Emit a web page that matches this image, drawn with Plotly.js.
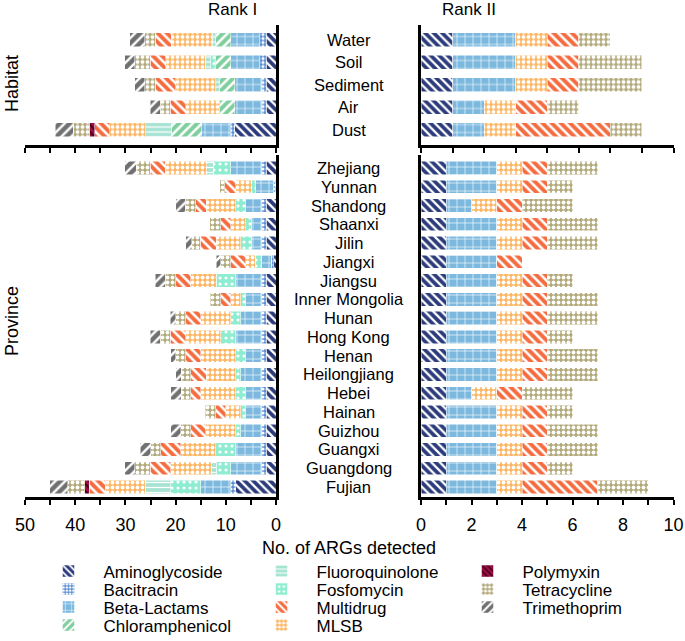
<!DOCTYPE html>
<html><head><meta charset="utf-8">
<script src="https://cdn.plot.ly/plotly-3.0.1.min.js"></script>
<style>html,body{margin:0;padding:0;background:#fff}#chart{width:685px;height:641px}</style>
</head><body><div id="chart"></div>
<script>
// ---------- categories (top to bottom) ----------
const habitats = ['Water', 'Soil', 'Sediment', 'Air', 'Dust'];
const provinces = ['Zhejiang', 'Yunnan', 'Shandong', 'Shaanxi', 'Jilin', 'Jiangxi', 'Jiangsu',
  'Inner Mongolia', 'Hunan', 'Hong Kong', 'Henan', 'Heilongjiang', 'Hebei', 'Hainan',
  'Guizhou', 'Guangxi', 'Guangdong', 'Fujian'];

// stacking order from the axis outward
const genes = ['Aminoglycoside', 'Bacitracin', 'Beta-Lactams', 'Chloramphenicol', 'Fosfomycin',
  'Fluoroquinolone', 'MLSB', 'Multidrug', 'Polymyxin', 'Tetracycline', 'Trimethoprim'];

// ---------- Rank I, habitat (Water, Soil, Sediment, Air, Dust) ----------
const r1HabAminoglycoside  = [1.9, 1.9, 1.9, 1.9, 8.2];
const r1HabBacitracin      = [1.3, 1.3, 1.0, 1.0, 0.8];
const r1HabBetaLactams     = [5.8, 5.8, 5.3, 5.3, 5.8];
const r1HabChloramphenicol = [3.0, 3.0, 3.0, 3.0, 6.1];
const r1HabFosfomycin      = [0, 1.0, 0, 0, 0];
const r1HabFluoroquinolone = [0.7, 1.1, 0.8, 0, 5.0];
const r1HabMLSB            = [8.2, 7.9, 8.0, 6.8, 7.2];
const r1HabMultidrug       = [3.2, 3.1, 4.1, 3.1, 3.0];
const r1HabPolymyxin       = [0, 0, 0, 0, 1.0];
const r1HabTetracycline    = [2.0, 3.0, 2.0, 2.0, 3.3];
const r1HabTrimethoprim    = [3.0, 2.0, 2.0, 2.0, 3.6];

// ---------- Rank II, habitat ----------
const r2HabAminoglycoside = [1, 1, 1, 1, 1];
const r2HabBetaLactams    = [2, 2, 2, 1, 1];
const r2HabMLSB           = [1, 1, 1, 1, 1];
const r2HabMultidrug      = [1, 1, 1, 1, 3];
const r2HabTetracycline   = [1, 2, 2, 1, 1];

// ---------- Rank I, province ----------
const r1ProAminoglycoside  = [1.9, 0.2, 1.9, 1.9, 1.9, 0.4, 1.9, 1.9, 1.9, 1.9, 1.9, 1.9, 1.9, 1.9, 1.9, 1.9, 1.9, 8.0];
const r1ProBacitracin      = [1.0, 0.3, 1.0, 1.0, 1.0, 0.5, 1.0, 1.0, 1.0, 1.0, 1.0, 1.0, 1.0, 1.0, 1.0, 1.0, 1.0, 1.0];
const r1ProBetaLactams     = [6.1, 3.5, 3.1, 2.0, 2.0, 2.0, 5.1, 3.1, 4.1, 5.1, 3.1, 4.1, 3.1, 3.1, 4.1, 5.1, 6.1, 6.0];
const r1ProChloramphenicol = [0, 0, 0, 0, 0, 0, 0, 0, 0, 0, 0, 0, 0, 0, 0, 0, 0, 0];
const r1ProFosfomycin      = [3.5, 0.8, 2.0, 1.15, 2.1, 1.2, 3.9, 1.0, 2.0, 3.0, 2.0, 1.0, 2.0, 1.0, 1.0, 4.0, 2.9, 6.0];
const r1ProFluoroquinolone = [1.3, 0, 0, 0, 0, 0, 0, 0, 0, 0, 0, 0, 0, 0, 0, 0, 0.9, 5.0];
const r1ProMLSB            = [8.3, 3.2, 5.9, 3.0, 4.9, 1.9, 5.1, 2.0, 6.0, 7.0, 7.0, 5.9, 7.0, 3.0, 6.0, 7.0, 8.2, 8.0];
const r1ProMultidrug       = [3.0, 2.2, 2.1, 2.0, 3.2, 3.0, 3.0, 2.0, 3.0, 3.1, 3.0, 3.1, 2.0, 2.0, 3.0, 4.0, 4.1, 3.2];
const r1ProPolymyxin       = [0, 0, 0, 0, 0, 0, 0, 0, 0, 0, 0, 0, 0, 0, 0, 0, 0, 0.9];
const r1ProTetracycline    = [2.7, 1.0, 2.1, 2.1, 1.7, 2.0, 2.1, 2.1, 2.0, 2.0, 2.0, 1.9, 1.9, 2.1, 2.0, 2.0, 3.0, 3.4];
const r1ProTrimethoprim    = [2.3, 0, 1.9, 0, 1.2, 0.9, 2.0, 0, 1.1, 2.0, 1.0, 1.1, 2.1, 0, 2.0, 2.0, 2.0, 3.6];

// ---------- Rank II, province ----------
const r2ProAminoglycoside = [1, 1, 1, 1, 1, 1, 1, 1, 1, 1, 1, 1, 1, 1, 1, 1, 1, 1];
const r2ProBetaLactams    = [2, 2, 1, 2, 2, 2, 2, 2, 2, 2, 2, 2, 1, 2, 2, 2, 2, 2];
const r2ProMLSB           = [1, 1, 1, 1, 1, 0, 1, 1, 1, 1, 1, 1, 1, 1, 1, 1, 1, 1];
const r2ProMultidrug      = [1, 1, 1, 1, 1, 1, 1, 1, 1, 1, 1, 1, 1, 1, 1, 1, 1, 3];
const r2ProTetracycline   = [2, 1, 2, 2, 2, 0, 1, 2, 2, 1, 2, 2, 2, 1, 2, 2, 1, 2];

const r1Hab = {
  'Aminoglycoside': r1HabAminoglycoside, 'Bacitracin': r1HabBacitracin, 'Beta-Lactams': r1HabBetaLactams,
  'Chloramphenicol': r1HabChloramphenicol, 'Fosfomycin': r1HabFosfomycin, 'Fluoroquinolone': r1HabFluoroquinolone,
  'MLSB': r1HabMLSB, 'Multidrug': r1HabMultidrug, 'Polymyxin': r1HabPolymyxin,
  'Tetracycline': r1HabTetracycline, 'Trimethoprim': r1HabTrimethoprim };
const r2Hab = { 'Aminoglycoside': r2HabAminoglycoside, 'Beta-Lactams': r2HabBetaLactams,
  'MLSB': r2HabMLSB, 'Multidrug': r2HabMultidrug, 'Tetracycline': r2HabTetracycline };
const r1Pro = {
  'Aminoglycoside': r1ProAminoglycoside, 'Bacitracin': r1ProBacitracin, 'Beta-Lactams': r1ProBetaLactams,
  'Chloramphenicol': r1ProChloramphenicol, 'Fosfomycin': r1ProFosfomycin, 'Fluoroquinolone': r1ProFluoroquinolone,
  'MLSB': r1ProMLSB, 'Multidrug': r1ProMultidrug, 'Polymyxin': r1ProPolymyxin,
  'Tetracycline': r1ProTetracycline, 'Trimethoprim': r1ProTrimethoprim };
const r2Pro = { 'Aminoglycoside': r2ProAminoglycoside, 'Beta-Lactams': r2ProBetaLactams,
  'MLSB': r2ProMLSB, 'Multidrug': r2ProMultidrug, 'Tetracycline': r2ProTetracycline };

// ---------- styles ----------
const W = 685, H = 641;
const FONT = 'Liberation Sans, Arial, Helvetica, sans-serif';
const styles = {
  'Aminoglycoside':  {color: '#2b3b7b', shape: '\\', fg: '#ffffff', size: 6,   sol: 0.38},
  'Bacitracin':      {color: '#5b8fd3', shape: '.',  fg: '#ffffff', size: 4,   sol: 0.45},
  'Beta-Lactams':    {color: '#7db8df', shape: '+',  fg: '#ffffff', size: 8,   sol: 0.15},
  'Chloramphenicol': {color: '#7fce9e', shape: '/',  fg: '#ffffff', size: 6.5, sol: 0.38},
  'Fluoroquinolone': {color: '#a6e3d2', shape: '-',  fg: '#ffffff', size: 5,   sol: 0.25},
  'Fosfomycin':      {color: '#8eedd0', shape: '.',  fg: '#ffffff', size: 6,   sol: 0.22},
  'Multidrug':       {color: '#f46c3f', shape: '\\', fg: '#ffffff', size: 6.5, sol: 0.4},
  'MLSB':            {color: '#fdb663', shape: '.',  fg: '#ffffff', size: 5,   sol: 0.45},
  'Polymyxin':       {color: '#9c0d44', shape: '\\', fg: '#3e0016', size: 5,   sol: 0.35},
  'Tetracycline':    {color: '#b3aa7b', shape: '.',  fg: '#ffffff', size: 5,   sol: 0.45},
  'Trimethoprim':    {color: '#707070', shape: '/',  fg: '#ffffff', size: 7,   sol: 0.35}
};
// legend layout: rows (legend ids) and columns
const legendRow = {
  'Aminoglycoside': 'legend', 'Fluoroquinolone': 'legend', 'Polymyxin': 'legend',
  'Bacitracin': 'legend2', 'Fosfomycin': 'legend2', 'Tetracycline': 'legend2',
  'Beta-Lactams': 'legend3', 'Multidrug': 'legend3', 'Trimethoprim': 'legend3',
  'Chloramphenicol': 'legend4', 'MLSB': 'legend4'
};
const legendCol = {
  'Aminoglycoside': 1, 'Bacitracin': 1, 'Beta-Lactams': 1, 'Chloramphenicol': 1,
  'Fluoroquinolone': 2, 'Fosfomycin': 2, 'Multidrug': 2, 'MLSB': 2,
  'Polymyxin': 3, 'Tetracycline': 3, 'Trimethoprim': 3
};

function barTrace(gene, values, cats, xa, ya, width, show) {
  const s = styles[gene];
  const t = {
    type: 'bar', orientation: 'h', name: gene,
    x: values.map(v => (v === 0 ? null : v)), y: cats,
    xaxis: xa, yaxis: ya, width: width,
    marker: {
      color: s.color, line: {color: '#ffffff', width: 0.5},
      pattern: {shape: s.shape, fgcolor: s.fg, bgcolor: s.color, size: s.size,
                solidity: s.sol, fillmode: 'replace'}
    },
    hoverinfo: 'skip', showlegend: show
  };
  if (show) {
    t.legend = legendRow[gene];
    t.legendrank = legendCol[gene];
    t.legendwidth = legendCol[gene] === 1 ? 138 : 131;
  }
  return t;
}

const data = [];
genes.forEach(g => data.push(barTrace(g, r1Hab[g], habitats, 'x', 'y', 0.62, false)));
genes.forEach(g => { if (r2Hab[g]) data.push(barTrace(g, r2Hab[g], habitats, 'x2', 'y2', 0.62, false)); });
genes.forEach(g => data.push(barTrace(g, r1Pro[g], provinces, 'x3', 'y3', 0.71, true)));
genes.forEach(g => { if (r2Pro[g]) data.push(barTrace(g, r2Pro[g], provinces, 'x4', 'y4', 0.71, false)); });

// ---------- geometry (pixels -> paper) ----------
const px = v => v / W;
const py = v => 1 - v / H;
const leftDom = [px(25), px(276)];
const rightDom = [px(421), px(673.5)];
const habDom = [py(145), py(24.5)];
const proDom = [py(497), py(155)];

const xBase = {
  showgrid: false, zeroline: false, showline: true, linecolor: '#000', linewidth: 2.5,
  ticks: 'outside', ticklen: 5, tickwidth: 2, tickcolor: '#000',
  tickfont: {family: FONT, size: 18, color: '#000'}, fixedrange: true, ticklabelstandoff: 5
};
const yBase = {
  showgrid: false, zeroline: false, showline: true, linecolor: '#000', linewidth: 2.5,
  ticks: '', showticklabels: false, type: 'category', fixedrange: true
};

const legendBase = (topPx) => ({
  orientation: 'h', x: px(33.5), xanchor: 'left', y: py(topPx), yanchor: 'top',
  itemwidth: 60, bgcolor: 'rgba(0,0,0,0)', borderwidth: 0, traceorder: 'normal',
  font: {family: FONT, size: 17, color: '#000'}, itemclick: false, itemdoubleclick: false
});

const CAT_FONT = {family: FONT, size: 16.5, color: '#000'};
const annotations = [];
habitats.forEach((h, i) => annotations.push({
  xref: 'paper', yref: 'y', x: px(348.5), y: i, text: h, showarrow: false,
  xanchor: 'center', yanchor: 'middle', font: CAT_FONT
}));
provinces.forEach((p, i) => annotations.push({
  xref: 'paper', yref: 'y3', x: px(348.5), y: i, text: p, showarrow: false,
  xanchor: 'center', yanchor: 'middle', font: CAT_FONT
}));
annotations.push(
  {xref: 'paper', yref: 'paper', x: px(232), y: py(9), text: 'Rank I', showarrow: false,
   xanchor: 'center', yanchor: 'middle', font: {family: FONT, size: 17, color: '#000'}},
  {xref: 'paper', yref: 'paper', x: px(469), y: py(9), text: 'Rank II', showarrow: false,
   xanchor: 'center', yanchor: 'middle', font: {family: FONT, size: 17, color: '#000'}},
  {xref: 'paper', yref: 'paper', x: px(12), y: py(84), text: 'Habitat', showarrow: false,
   textangle: -90, xanchor: 'center', yanchor: 'middle', font: {family: FONT, size: 18, color: '#000'}},
  {xref: 'paper', yref: 'paper', x: px(12), y: py(321), text: 'Province', showarrow: false,
   textangle: -90, xanchor: 'center', yanchor: 'middle', font: {family: FONT, size: 18, color: '#000'}},
  {xref: 'paper', yref: 'paper', x: px(348.5), y: py(548), text: 'No. of ARGs detected', showarrow: false,
   xanchor: 'center', yanchor: 'middle', font: {family: FONT, size: 18, color: '#000'}}
);

const layout = {
  width: W, height: H,
  margin: {l: 0, r: 0, t: 0, b: 0, autoexpand: false},
  paper_bgcolor: '#fff', plot_bgcolor: 'rgba(0,0,0,0)',
  barmode: 'stack', font: {family: FONT, color: '#000'},
  xaxis:  Object.assign({}, xBase, {domain: leftDom, anchor: 'y', range: [50, 0], dtick: 5, showticklabels: false}),
  xaxis2: Object.assign({}, xBase, {domain: rightDom, anchor: 'y2', range: [0, 8], dtick: 1, showticklabels: false}),
  xaxis3: Object.assign({}, xBase, {domain: leftDom, anchor: 'y3', range: [50, 0], tickvals: [0, 10, 20, 30, 40, 50],
           minor: {dtick: 5, ticks: 'outside', ticklen: 5, tickwidth: 2, tickcolor: '#000', showgrid: false}}),
  xaxis4: Object.assign({}, xBase, {domain: rightDom, anchor: 'y4', range: [0, 10], tickvals: [0, 2, 4, 6, 8, 10],
           minor: {dtick: 1, ticks: 'outside', ticklen: 5, tickwidth: 2, tickcolor: '#000', showgrid: false}}),
  yaxis:  Object.assign({}, yBase, {domain: habDom, anchor: 'x', side: 'right', range: [4.67, -0.67],
           categoryorder: 'array', categoryarray: habitats}),
  yaxis2: Object.assign({}, yBase, {domain: habDom, anchor: 'x2', side: 'left', range: [4.67, -0.67],
           categoryorder: 'array', categoryarray: habitats}),
  yaxis3: Object.assign({}, yBase, {domain: proDom, anchor: 'x3', side: 'right', range: [17.533, -0.693],
           categoryorder: 'array', categoryarray: provinces}),
  yaxis4: Object.assign({}, yBase, {domain: proDom, anchor: 'x4', side: 'left', range: [17.533, -0.693],
           categoryorder: 'array', categoryarray: provinces}),
  legend: legendBase(553.5),
  legend2: legendBase(571.5),
  legend3: legendBase(589.5),
  legend4: legendBase(607.5),
  annotations: annotations
};

Plotly.newPlot('chart', data, layout, {displayModeBar: false, staticPlot: false, responsive: false});
</script>
</body></html>
